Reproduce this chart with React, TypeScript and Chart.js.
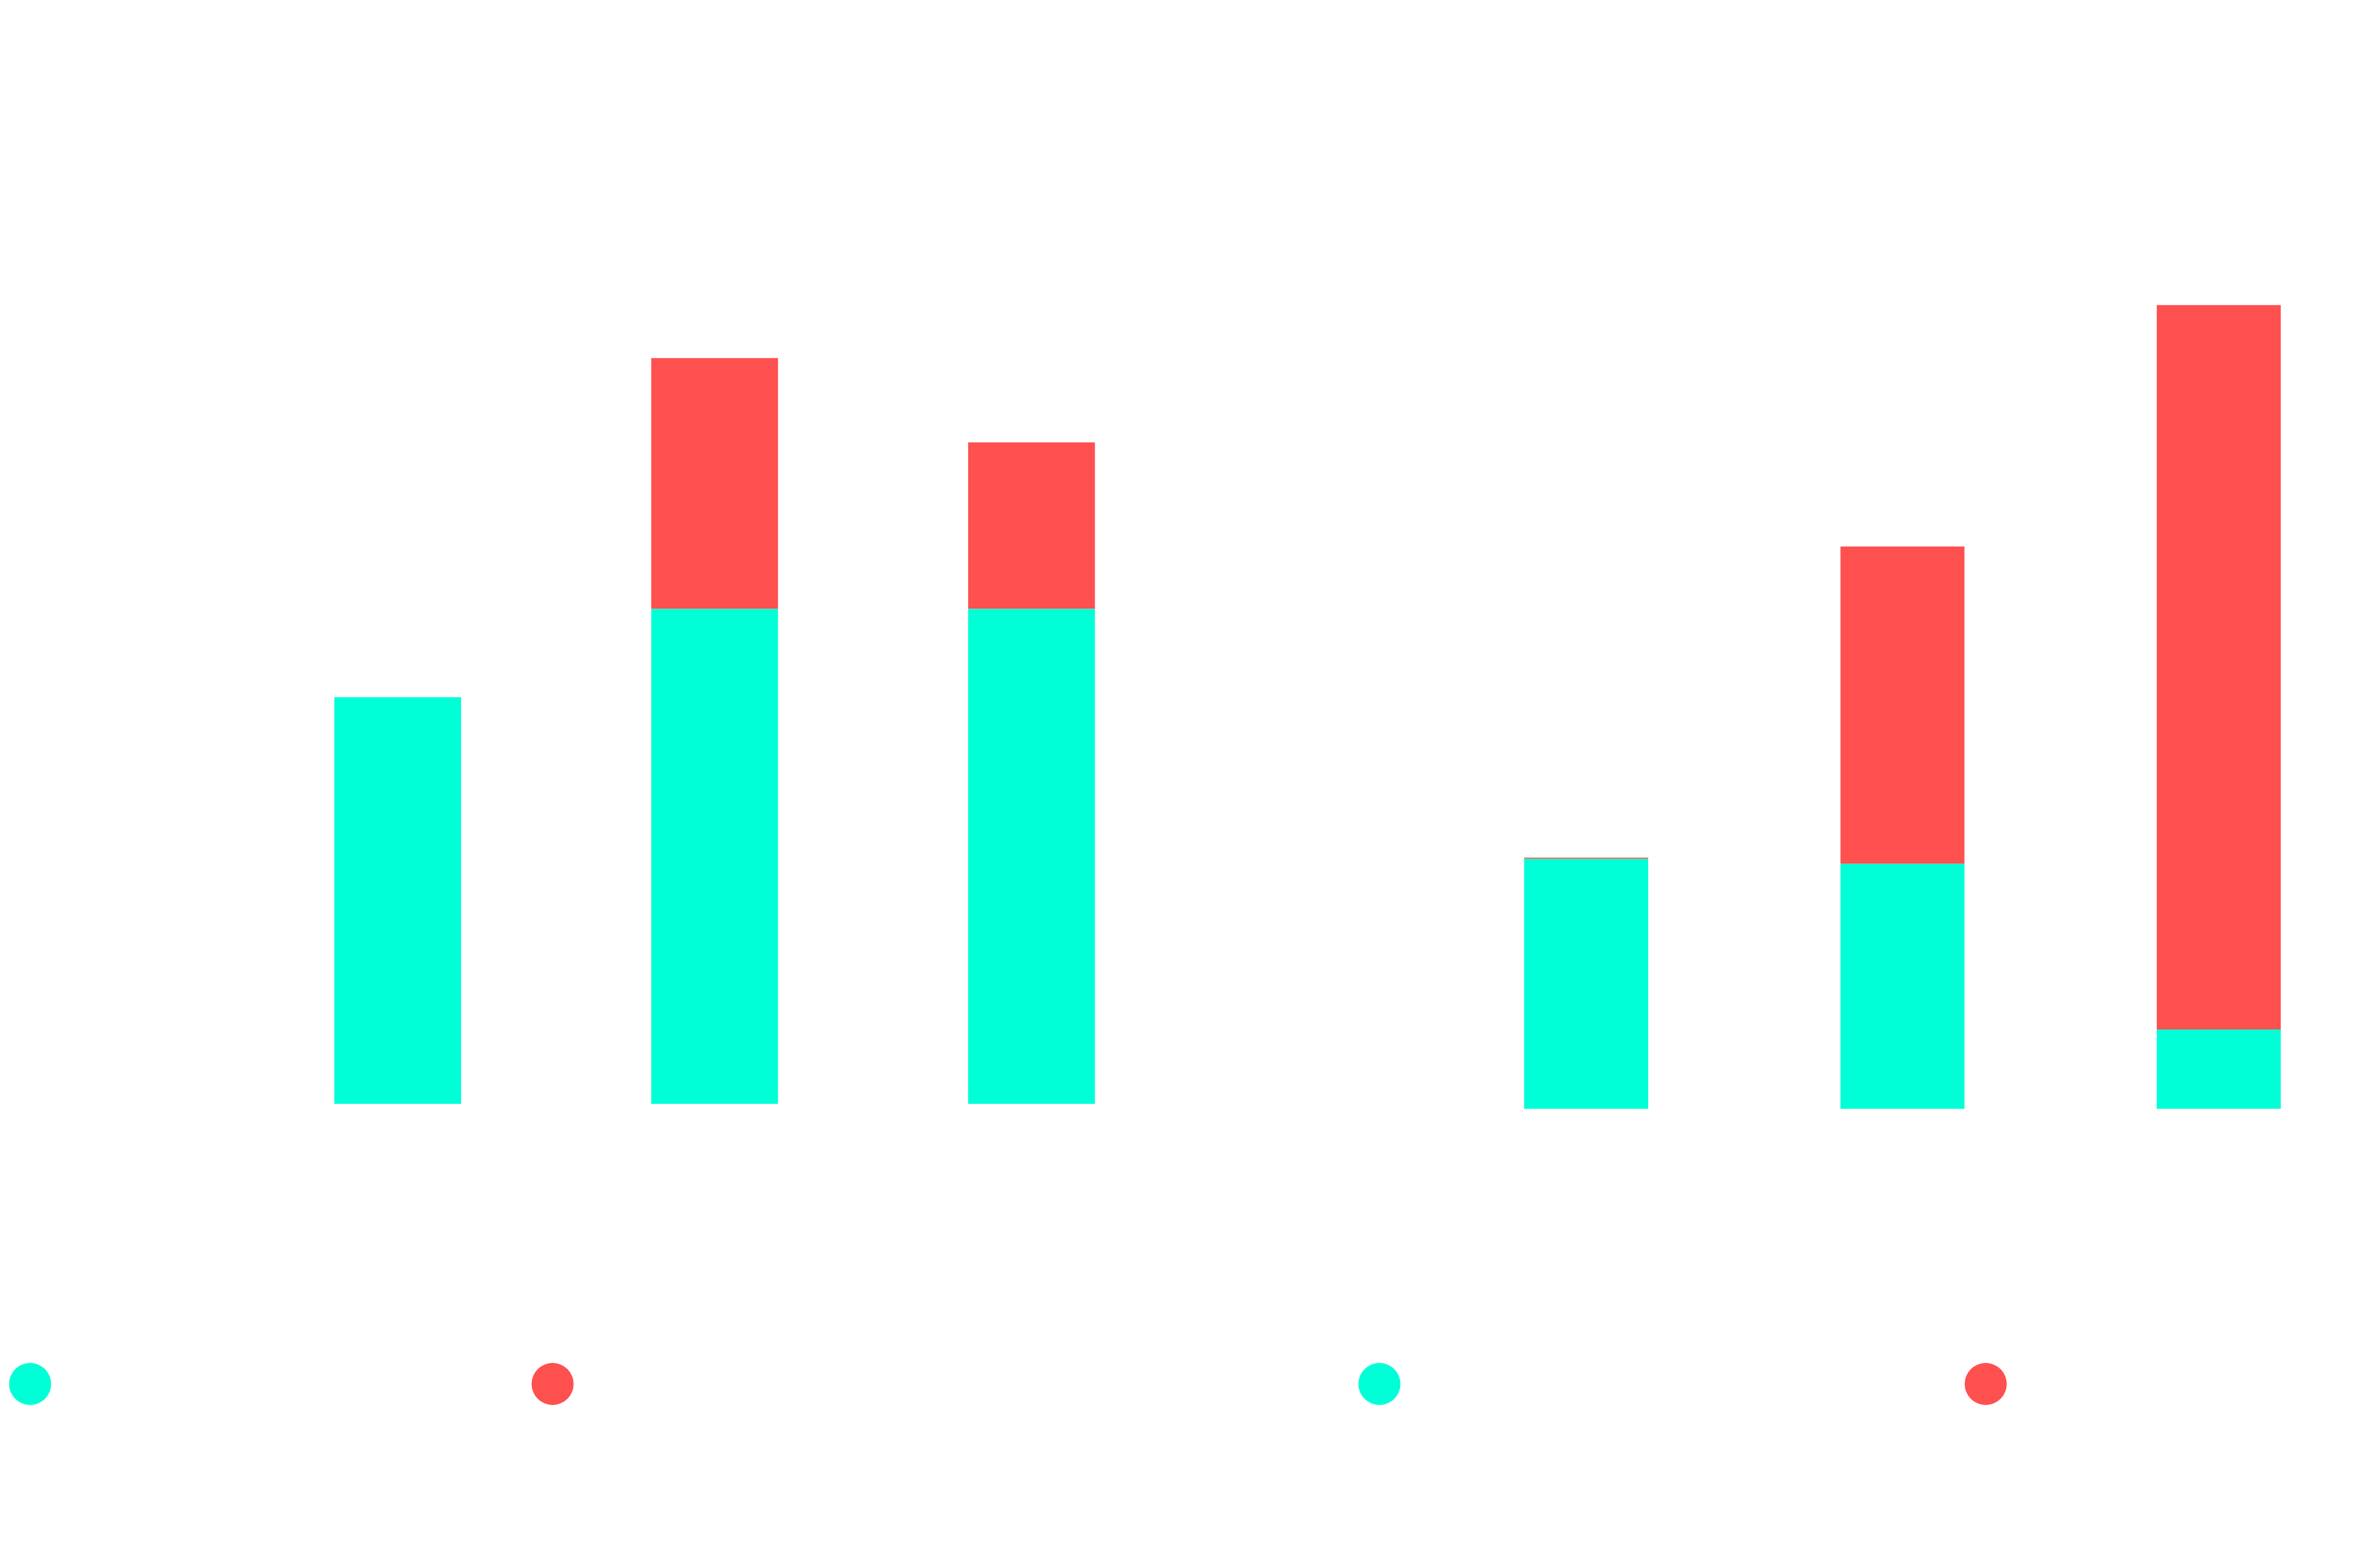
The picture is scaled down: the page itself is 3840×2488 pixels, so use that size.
import { useEffect, useRef } from "react";
import { Chart, registerables } from "chart.js";

Chart.register(...registerables);
Chart.defaults.font.family = "DejaVu Sans";

const CYAN = "#00ffd6";
const RED = "#ff5050";

// left chart: tickets by team
const leftCategories = ["Support", "Billing", "Technical"];
const leftSeriesNames = ["Resolved within SLA target time", "Escalated after SLA target time elapsed"];
const leftOnTime = [82, 99.8, 99.8];
const leftLate = [0, 50.6, 33.6];
const leftMax = 160;
const leftStep = 40;

// right chart: orders by region
const rightCategories = ["North", "Central", "South"];
const rightSeriesNames = ["Shipped on or before due date (units)", "Shipped late"];
const rightOnTime = [50.4, 49.4, 16];
const rightLate = [0.25, 64, 146.1];
const rightMax = 170;
const rightStep = 50;

type Props = {
  labels: string[];
  names: string[];
  first: number[];
  second: number[];
  yMax: number;
  step: number;
  pad: { top: number; right: number };
  yWidth: number;
  xHeight: number;
  barPct: number;
};

function StackedBars({ labels, names, first, second, yMax, step, pad, yWidth, xHeight, barPct }: Props) {
  const canvasRef = useRef<HTMLCanvasElement | null>(null);
  const chartRef = useRef<Chart | null>(null);

  useEffect(() => {
    const ctx = canvasRef.current?.getContext("2d");
    if (!ctx) return;

    chartRef.current = new Chart(ctx, {
      type: "bar",
      data: {
        labels,
        datasets: [
          { label: names[0], data: first, backgroundColor: CYAN, borderWidth: 0, categoryPercentage: 0.8, barPercentage: barPct },
          { label: names[1], data: second, backgroundColor: RED, borderWidth: 0, categoryPercentage: 0.8, barPercentage: barPct },
        ],
      },
      options: {
        animation: false,
        responsive: true,
        maintainAspectRatio: false,
        layout: { padding: { top: pad.top, right: pad.right, left: 0, bottom: 0 } },
        plugins: {
          legend: {
            position: "bottom",
            labels: {
              color: "#ffffff",
              usePointStyle: true,
              pointStyle: "circle",
              font: { size: 48 },
            },
          },
          tooltip: { enabled: false },
        },
        scales: {
          x: {
            stacked: true,
            grid: { display: false },
            border: { display: false },
            ticks: { color: "#ffffff", font: { size: 40 }, maxRotation: 0 },
            afterFit: (s: any) => { s.height = xHeight; },
          },
          y: {
            stacked: true,
            min: 0,
            max: yMax,
            grid: { display: false },
            border: { display: false },
            ticks: { color: "#ffffff", font: { size: 40 }, stepSize: step },
            afterFit: (s: any) => { s.width = yWidth; },
          },
        },
      },
    });
    return () => chartRef.current?.destroy();
  }, []);

  return (
    <div style={{ position: "relative", width: 1920, height: 2267 }}>
      <canvas ref={canvasRef} />
    </div>
  );
}

export default function App() {
  return (
    <div style={{ position: "absolute", top: 0, left: 0, width: 3840, height: 2488, display: "flex", background: "#ffffff" }}>
      <StackedBars
        labels={leftCategories}
        names={leftSeriesNames}
        first={leftOnTime}
        second={leftLate}
        yMax={leftMax}
        step={leftStep}
        pad={{ top: 501, right: 0 }}
        yWidth={386}
        xHeight={418}
        barPct={0.5}
      />
      <StackedBars
        labels={rightCategories}
        names={rightSeriesNames}
        first={rightOnTime}
        second={rightLate}
        yMax={rightMax}
        step={rightStep}
        pad={{ top: 429, right: 5 }}
        yWidth={384}
        xHeight={410}
        barPct={0.49}
      />
    </div>
  );
}
